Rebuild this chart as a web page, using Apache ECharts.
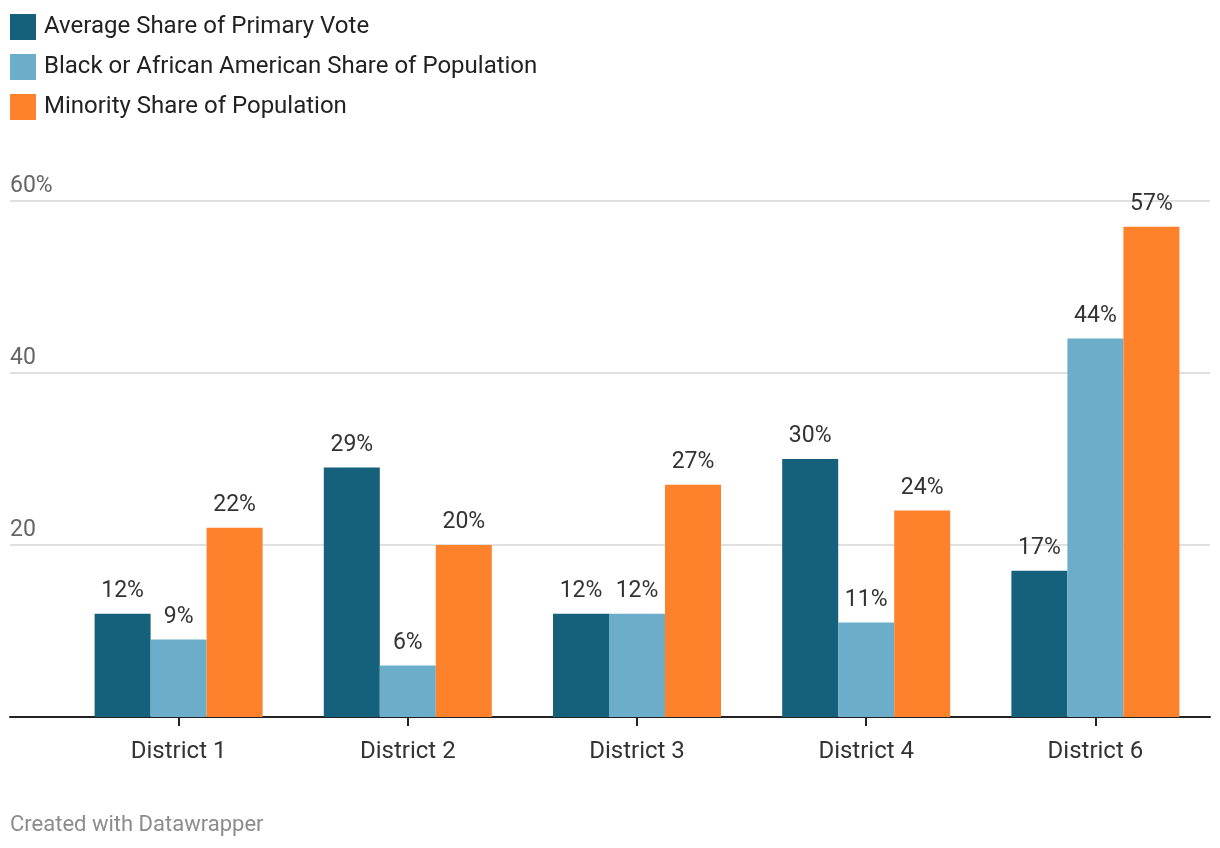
<!DOCTYPE html>
<html><head><meta charset="utf-8">
<script src="https://cdn.jsdelivr.net/npm/echarts@6/dist/echarts.min.js"></script>
<style>html,body{margin:0;padding:0;background:#fff}#c{width:1220px;height:848px}</style>
</head><body><div id="c"></div>
<script>
const categories = ['District 1','District 2','District 3','District 4','District 6'];
const seriesNames = ['Average Share of Primary Vote','Black or African American Share of Population','Minority Share of Population'];
const primaryVote = [12, 29, 12, 30, 17];
const blackShare = [9, 6, 12, 11, 44];
const minorityShare = [22, 20, 27, 24, 57];
const yTicks = [0, 20, 40, 60];
const colors = ['#15607a', '#6cadca', '#fe812b'];

const chart = echarts.init(document.getElementById('c'));
const font = 'Roboto, "Noto Sans", sans-serif';
const values = [primaryVote, blackShare, minorityShare];
chart.setOption({
  animation: false,
  textStyle: {fontFamily: font},
  legend: {
    orient: 'vertical', left: 10, top: 14, padding: 0, itemWidth: 26, itemHeight: 26, itemGap: 14,
    icon: 'rect', data: seriesNames,
    textStyle: {fontSize: 24, color: '#222', fontFamily: font, padding: [0,0,0,3]}
  },
  grid: [
    {left: 10, right: 10, top: 201, bottom: 131},
    {left: 64, right: 10, top: 201, bottom: 131}
  ],
  xAxis: [
    {gridIndex: 0, type: 'value', min: 0, max: 1, axisLine: {show: true, lineStyle: {color: '#222', width: 2}},
     axisTick: {show: false}, axisLabel: {show: false}, splitLine: {show: false}},
    {gridIndex: 1, type: 'category', data: categories,
     axisLine: {show: false}, axisTick: {show: true, alignWithLabel: true, length: 9, lineStyle: {color: '#222', width: 2}},
     axisLabel: {fontSize: 24, color: '#333', margin: 23, fontFamily: font}}
  ],
  yAxis: [
    {gridIndex: 0, type: 'value', min: yTicks[0], max: yTicks[yTicks.length-1], interval: 20,
     axisLine: {show: false}, axisTick: {show: false},
     splitLine: {lineStyle: {color: '#d6d6d6', width: 1.5}},
     axisLabel: {inside: true, margin: 0, verticalAlign: 'bottom', padding: [0,0,3,0], fontSize: 23, color: '#666', fontFamily: font,
       formatter: v => v === 0 ? '' : (v === 60 ? v + '%' : String(v))}},
    {gridIndex: 1, type: 'value', min: yTicks[0], max: yTicks[yTicks.length-1], interval: 20, show: false, splitLine: {show: false}}
  ],
  series: seriesNames.map((n, i) => ({
    name: n, type: 'bar', xAxisIndex: 1, yAxisIndex: 1, data: values[i],
    barWidth: 56, barGap: '0%', itemStyle: {color: colors[i]},
    label: {show: true, position: 'top', distance: 11, fontSize: 23, color: '#333', fontFamily: font, formatter: p => p.value + '%'}
  })),
  graphic: [{type: 'text', left: 10, top: 814, style: {text: 'Created with Datawrapper', fontSize: 22, fill: '#8c8c8c', fontFamily: font}}]
});
</script></body></html>
